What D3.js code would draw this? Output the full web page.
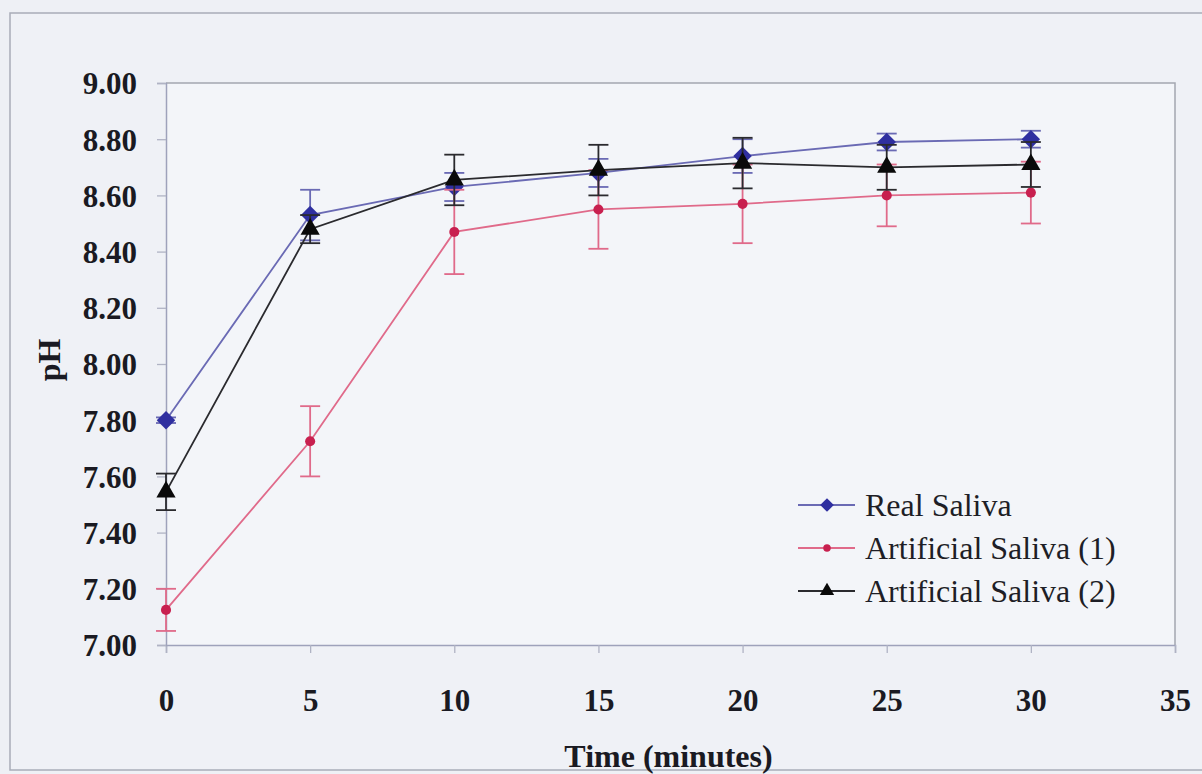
<!DOCTYPE html>
<html lang="en">
<head>
    <meta charset="UTF-8">
    <title>pH over time</title>
    <script src="https://d3js.org/d3.v7.min.js" charset="UTF-8"></script>
    <style>
        body { margin: 0; background: #eef0f5; }
        text { font-family: "Liberation Serif", "Times New Roman", serif; }
    </style>
</head>
<body>
<script>
    // values
    var times = [0, 5, 10, 15, 20, 25, 30];
    var realSaliva = [7.80, 8.53, 8.63, 8.68, 8.74, 8.79, 8.80];
    var realSalivaErr = [0.01, 0.09, 0.05, 0.05, 0.06, 0.03, 0.03];
    var artSaliva1 = [7.125, 7.725, 8.47, 8.55, 8.57, 8.60, 8.61];
    var artSaliva1Err = [0.075, 0.125, 0.15, 0.14, 0.14, 0.11, 0.11];
    var artSaliva2 = [7.545, 8.48, 8.655, 8.69, 8.715, 8.70, 8.71];
    var artSaliva2Err = [0.065, 0.05, 0.09, 0.09, 0.09, 0.08, 0.08];
    var xTicks = [0, 5, 10, 15, 20, 25, 30, 35];
    var yTicks = [7.0, 7.2, 7.4, 7.6, 7.8, 8.0, 8.2, 8.4, 8.6, 8.8, 9.0];
    var seriesNames = ["Real Saliva", "Artificial Saliva (1)", "Artificial Saliva (2)"];

    var width = 1202, height = 774;
    var margin = {top: 83, right: 27, bottom: 129, left: 166};
    var plotW = width - margin.left - margin.right;
    var plotH = height - margin.top - margin.bottom;

    // excel-style diamond: equal width and height
    var wideDiamond = {
        draw: function (ctx, size) {
            var r = Math.sqrt(size / 2);
            ctx.moveTo(0, -r);
            ctx.lineTo(r, 0);
            ctx.lineTo(0, r);
            ctx.lineTo(-r, 0);
            ctx.closePath();
        }
    };

    var svg = d3.select("body").append("svg")
        .attr("width", width)
        .attr("height", height);

    // outer chart frame
    svg.append("rect")
        .attr("x", 10).attr("y", 13)
        .attr("width", 1200).attr("height", 757)
        .attr("fill", "#eff1f6")
        .attr("stroke", "#a9acb8")
        .attr("stroke-width", 1.5);

    var x = d3.scaleLinear().domain([0, 35]).range([0, plotW]);
    var y = d3.scaleLinear().domain([7, 9]).range([plotH, 0]);

    var g = svg.append("g").attr("transform", "translate(" + margin.left + "," + margin.top + ")");

    // plot area
    g.append("rect")
        .attr("width", plotW).attr("height", plotH)
        .attr("fill", "#f3f5f9")
        .attr("stroke", "none");
    g.append("path")
        .attr("d", "M0,0H" + plotW + "V" + plotH)
        .attr("fill", "none")
        .attr("stroke", "#a4a6b0")
        .attr("stroke-width", 1.5);

    var xAxis = g.append("g")
        .attr("transform", "translate(0," + plotH + ")")
        .call(d3.axisBottom(x).tickValues(xTicks).tickSize(8).tickPadding(30).tickFormat(d3.format("d")));
    var yAxis = g.append("g")
        .call(d3.axisLeft(y).tickValues(yTicks).tickSize(9).tickPadding(20).tickFormat(d3.format(".2f")));

    [xAxis, yAxis].forEach(function (ax) {
        ax.select(".domain").attr("stroke", "#9ea2bb").attr("stroke-width", 1.5);
        ax.selectAll(".tick line").attr("stroke", "#b0b3c4").attr("stroke-width", 1.3);
        ax.selectAll(".tick text")
            .attr("fill", "#1a1a22")
            .attr("font-size", 31)
            .attr("font-weight", "bold")
            .attr("font-family", "'Liberation Serif', serif");
    });
    xAxis.selectAll(".tick text").attr("dy", "0.9em");
    yAxis.selectAll(".tick text").attr("dy", "0.35em");

    // axis titles
    svg.append("text")
        .attr("x", margin.left + plotW / 2 - 2)
        .attr("y", 767)
        .attr("text-anchor", "middle")
        .attr("font-size", 32)
        .attr("font-weight", "bold")
        .attr("fill", "#1a1a22")
        .text("Time (minutes)");
    svg.append("text")
        .attr("transform", "translate(60," + (margin.top + plotH / 2 - 4) + ") rotate(-90)")
        .attr("text-anchor", "middle")
        .attr("font-size", 32)
        .attr("font-weight", "bold")
        .attr("fill", "#1a1a22")
        .text("pH");

    var series = [
        {name: seriesNames[0], values: realSaliva, err: realSalivaErr, line: "#6a6ab4", color: "#2f2fa0", shape: wideDiamond, size: 170},
        {name: seriesNames[1], values: artSaliva1, err: artSaliva1Err, line: "#e06a8a", color: "#c8204f", shape: d3.symbolCircle, size: 80},
        {name: seriesNames[2], values: artSaliva2, err: artSaliva2Err, line: "#2a2a2e", color: "#0a0a0a", shape: d3.symbolTriangle, size: 160}
    ];

    var line = d3.line()
        .x(function (d) { return x(d.t); })
        .y(function (d) { return y(d.v); });

    series.forEach(function (s) {
        var pts = times.map(function (t, i) { return {t: t, v: s.values[i], e: s.err[i]}; });
        var sg = g.append("g");

        // error bars
        var eb = sg.selectAll("g.err").data(pts).join("g").attr("class", "err")
            .attr("stroke", s.line).attr("stroke-width", 1.8);
        eb.append("line")
            .attr("x1", function (d) { return x(d.t); })
            .attr("x2", function (d) { return x(d.t); })
            .attr("y1", function (d) { return y(d.v - d.e); })
            .attr("y2", function (d) { return y(d.v + d.e); });
        eb.append("line")
            .attr("x1", function (d) { return x(d.t) - 10; })
            .attr("x2", function (d) { return x(d.t) + 10; })
            .attr("y1", function (d) { return y(d.v + d.e); })
            .attr("y2", function (d) { return y(d.v + d.e); });
        eb.append("line")
            .attr("x1", function (d) { return x(d.t) - 10; })
            .attr("x2", function (d) { return x(d.t) + 10; })
            .attr("y1", function (d) { return y(d.v - d.e); })
            .attr("y2", function (d) { return y(d.v - d.e); });

        sg.append("path")
            .datum(pts)
            .attr("fill", "none")
            .attr("stroke", s.line)
            .attr("stroke-width", 1.8)
            .attr("d", line);

        sg.selectAll("path.mark").data(pts).join("path").attr("class", "mark")
            .attr("transform", function (d) { return "translate(" + x(d.t) + "," + y(d.v) + ")"; })
            .attr("d", d3.symbol().type(s.shape).size(s.size))
            .attr("fill", s.color);
    });

    // legend
    var legend = svg.append("g").attr("transform", "translate(798,505)");
    series.forEach(function (s, i) {
        var row = legend.append("g").attr("transform", "translate(0," + (i * 43) + ")");
        row.append("line")
            .attr("x1", 0).attr("x2", 57)
            .attr("stroke", s.line).attr("stroke-width", 1.8);
        row.append("path")
            .attr("transform", "translate(29,0)")
            .attr("d", d3.symbol().type(s.shape).size(s.size * 0.55))
            .attr("fill", s.color);
        row.append("text")
            .attr("x", 67).attr("y", 0).attr("dy", "0.34em")
            .attr("font-size", 32)
            .attr("fill", "#1e1e26")
            .text(s.name);
    });
</script>
</body>
</html>
